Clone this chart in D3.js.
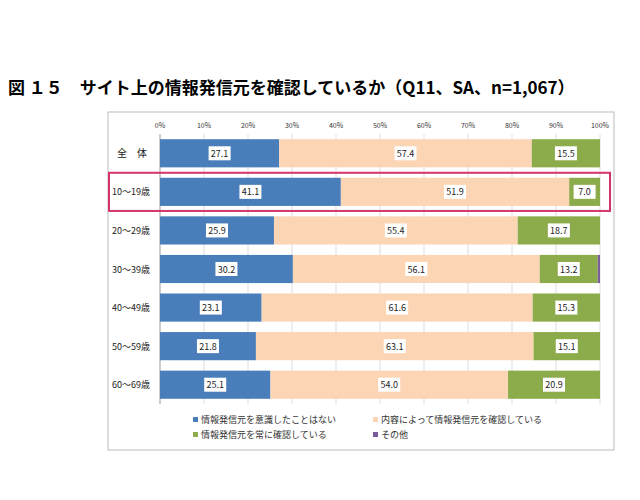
<!DOCTYPE html><html><head><meta charset="utf-8"><script src="https://cdn.jsdelivr.net/npm/d3@7"></script>
<style>body{margin:0;background:#fff}text{font-family:"Noto Sans CJK JP",sans-serif}</style></head><body><svg id="c" width="640" height="500"></svg>
<script>
const categories=["全 体","10〜19歳","20〜29歳","30〜39歳","40〜49歳","50〜59歳","60〜69歳"];
const seriesNames=["情報発信元を意識したことはない","内容によって情報発信元を確認している","情報発信元を常に確認している","その他"];
const colors=["#4a7ebb","#fcd5b5","#8cac4c","#7a5e9b"];
const s1=[27.1,41.1,25.9,30.2,23.1,21.8,25.1];
const s2=[57.4,51.9,55.4,56.1,61.6,63.1,54.0];
const s3=[15.5,7.0,18.7,13.2,15.3,15.1,20.9];
const s4=[0,0,0,0.5,0,0,0];
const ticks=[0,10,20,30,40,50,60,70,80,90,100];
const svg=d3.select("#c");
svg.append("text").attr("x",8).attr("y",94).attr("font-size",17).attr("font-weight","bold").text("図 １５　サイト上の情報発信元を確認しているか（Q11、SA、n=1,067）");
svg.append("rect").attr("x",108).attr("y",112).attr("width",506).attr("height",338).attr("fill","none").attr("stroke","#bbb");
const x=d3.scaleLinear().domain([0,100]).range([160,600]);
const y=d3.scaleBand().domain(categories).range([134,404]).paddingInner(0.27).paddingOuter(0.135);
const g=svg.append("g");
g.selectAll("line.g").data(ticks).join("line").attr("x1",d=>x(d)).attr("x2",d=>x(d)).attr("y1",134).attr("y2",404).attr("stroke","#ddd");
g.append("line").attr("x1",160).attr("x2",160).attr("y1",134).attr("y2",404).attr("stroke","#aaa");
g.selectAll("text.t").data(ticks).join("text").attr("x",d=>x(d)).attr("y",128).attr("text-anchor","middle").attr("font-size",7).attr("fill","#333").text(d=>d+"%");
const series=[s1,s2,s3,s4];
categories.forEach((c,i)=>{let acc=0;series.forEach((s,k)=>{const v=s[i];if(v>0){g.append("rect").attr("x",x(acc)).attr("y",y(c)).attr("width",x(acc+v)-x(acc)).attr("height",y.bandwidth()).attr("fill",colors[k]);
if(k<3){const cx=(x(acc)+x(acc+v))/2,cy=y(c)+y.bandwidth()/2;g.append("rect").attr("x",cx-11).attr("y",cy-7).attr("width",22).attr("height",14).attr("fill","#fff");
g.append("text").attr("x",cx).attr("y",cy+3.5).attr("text-anchor","middle").attr("font-size",9).attr("fill","#222").text(v.toFixed(1));}}acc+=v;});
g.append("text").attr("x",i==0?147:150).attr("y",y(c)+y.bandwidth()/2+3.5).attr("text-anchor","end").attr("font-size",i==0?10:9).attr("fill","#222").text(i==0?"全　体":c);});
svg.append("rect").attr("x",109).attr("y",y(categories[1])-5).attr("width",501).attr("height",y.bandwidth()+10).attr("fill","none").attr("stroke","#d6336c").attr("stroke-width",2);
const lp=[[193,423],[373,423],[193,438],[373,438]];
seriesNames.forEach((n,k)=>{svg.append("rect").attr("x",lp[k][0]).attr("y",lp[k][1]-6).attr("width",5).attr("height",5).attr("fill",colors[k]);
svg.append("text").attr("x",lp[k][0]+8).attr("y",lp[k][1]).attr("font-size",9).attr("fill","#333").text(n);});
</script></body></html>
